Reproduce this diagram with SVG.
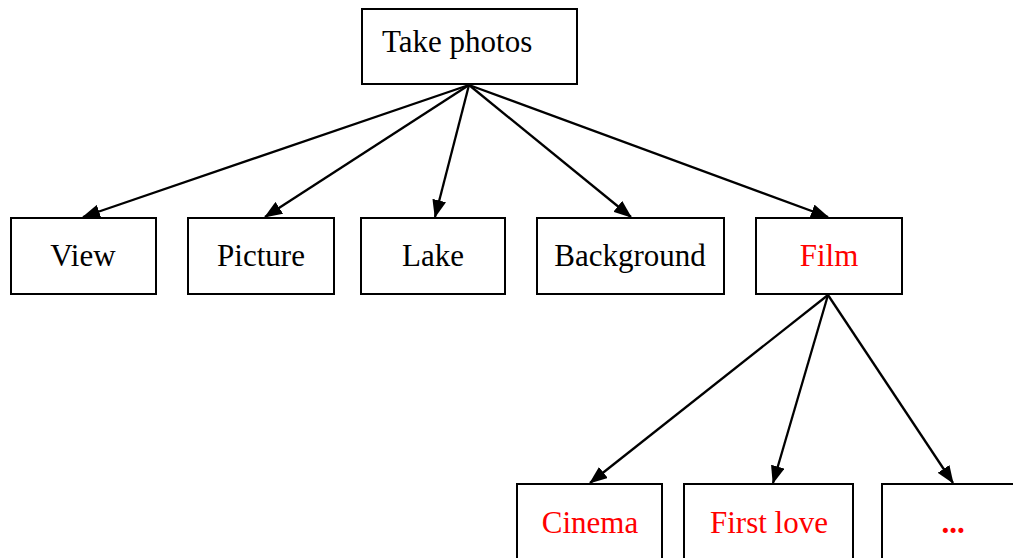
<svg xmlns="http://www.w3.org/2000/svg" width="1013" height="558" viewBox="0 0 1013 558">
  <style>
    .box { fill: #ffffff; stroke: #000000; stroke-width: 2; }
    .lbl { font-family: "Liberation Serif", "Times New Roman", serif; font-size: 31px; fill: #000000; text-anchor: middle; }
    .start { text-anchor: start; }
    .red { fill: #ff0000; }
    .edge { stroke: #000000; stroke-width: 2.3; fill: none; marker-end: url(#arrow); }
  </style>
  <defs>
    <marker id="arrow" viewBox="0 0 18 14" refX="17" refY="7" markerWidth="18" markerHeight="14" markerUnits="userSpaceOnUse" orient="auto">
      <path d="M0,0 L18,7 L0,14 Z" fill="#000000"/>
    </marker>
  </defs>
  <rect width="1013" height="558" fill="#ffffff"/>

  <g id="connectors">
    <line class="edge" x1="469" y1="85" x2="83" y2="217"/>
    <line class="edge" x1="469" y1="85" x2="265" y2="217"/>
    <line class="edge" x1="469" y1="85" x2="435" y2="217"/>
    <line class="edge" x1="469" y1="85" x2="631" y2="217"/>
    <line class="edge" x1="469" y1="85" x2="828" y2="217"/>
    <line class="edge" x1="828" y1="295" x2="590" y2="483"/>
    <line class="edge" x1="828" y1="295" x2="773" y2="483"/>
    <line class="edge" x1="828" y1="295" x2="953" y2="483"/>
  </g>

  <g id="take-photos">
    <rect class="box" x="362" y="9" width="215" height="75"/>
    <text class="lbl start" x="382" y="52">Take photos</text>
  </g>
  <g id="view">
    <rect class="box" x="11" y="218" width="145" height="76"/>
    <text class="lbl" x="83" y="266">View</text>
  </g>
  <g id="picture">
    <rect class="box" x="188" y="218" width="146" height="76"/>
    <text class="lbl" x="261" y="266">Picture</text>
  </g>
  <g id="lake">
    <rect class="box" x="361" y="218" width="144" height="76"/>
    <text class="lbl" x="433" y="266">Lake</text>
  </g>
  <g id="background">
    <rect class="box" x="537" y="218" width="187" height="76"/>
    <text class="lbl" x="630" y="266">Background</text>
  </g>
  <g id="film">
    <rect class="box" x="756" y="218" width="146" height="76"/>
    <text class="lbl red" x="829" y="266">Film</text>
  </g>
  <g id="cinema">
    <rect class="box" x="517" y="484" width="145" height="90"/>
    <text class="lbl red" x="590" y="533">Cinema</text>
  </g>
  <g id="first-love">
    <rect class="box" x="684" y="484" width="169" height="90"/>
    <text class="lbl red" x="769" y="533">First love</text>
  </g>
  <g id="more">
    <rect class="box" x="882" y="484" width="145" height="90"/>
    <text class="lbl red" x="953" y="533" font-weight="bold">...</text>
  </g>
</svg>
